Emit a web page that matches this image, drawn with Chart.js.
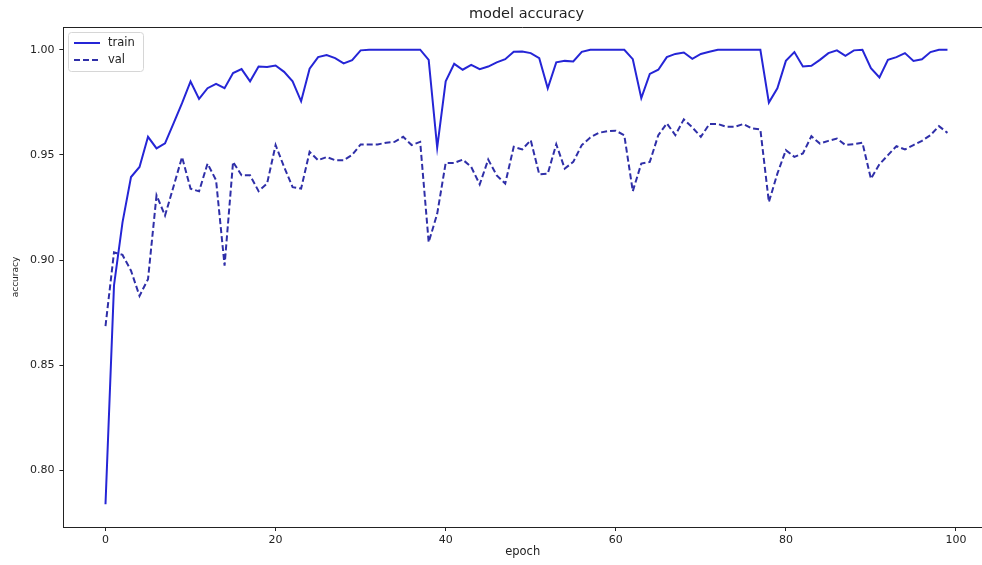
<!DOCTYPE html>
<html>
<head>
<meta charset="utf-8">
<script src="https://cdn.jsdelivr.net/npm/chart.js@4/dist/chart.umd.min.js"></script>
<style>
  html, body { margin: 0; padding: 0; background: #fff; overflow: hidden; }
  #wrap { position: relative; width: 982px; height: 565px; }
</style>
</head>
<body>
<div id="wrap"><canvas id="myChart"></canvas></div>
<script>
const epochs = Array.from({ length: 100 }, (_, i) => i);

const trainAcc = [
  0.784, 0.888, 0.918, 0.9395, 0.9443, 0.9586, 0.9531, 0.9555, 0.965, 0.9746,
  0.9849, 0.9766, 0.9817, 0.9838, 0.9817, 0.9889, 0.9908, 0.985, 0.992, 0.9918,
  0.9925, 0.9895, 0.985, 0.9755, 0.991, 0.9965, 0.9975, 0.996, 0.9935, 0.995,
  0.9997, 1.0, 1.0, 1.0, 1.0, 1.0, 1.0, 1.0, 0.9952, 0.9535,
  0.985, 0.9933, 0.9905, 0.9928, 0.9908, 0.992, 0.994, 0.9955, 0.999, 0.9992,
  0.9984, 0.996, 0.9817, 0.994, 0.9947, 0.9944, 0.999, 1.0, 1.0, 1.0,
  1.0, 1.0, 0.9955, 0.977, 0.9885, 0.9905, 0.9965, 0.998, 0.9987, 0.9957,
  0.998, 0.999, 1.0, 1.0, 1.0, 1.0, 1.0, 1.0, 0.9749, 0.9817,
  0.9947, 0.9989, 0.992, 0.9924, 0.9952, 0.9984, 0.9997, 0.9971, 0.9997, 1.0,
  0.9912, 0.9868, 0.9952, 0.9965, 0.9984, 0.9947, 0.9955, 0.9989, 1.0, 1.0
];

const valAcc = [
  0.8687, 0.9037, 0.9025, 0.895, 0.883, 0.891, 0.9308, 0.9212, 0.935, 0.949,
  0.934, 0.9327, 0.9459, 0.938, 0.8974, 0.9467, 0.9403, 0.9403, 0.9328, 0.9364,
  0.9547, 0.9443, 0.9347, 0.934, 0.9515, 0.9475, 0.949, 0.9475, 0.9475, 0.95,
  0.955, 0.955, 0.955, 0.9558, 0.9562, 0.9586, 0.9547, 0.9562, 0.9085, 0.922,
  0.9462, 0.9462, 0.9478, 0.9443, 0.936, 0.9478, 0.9403, 0.9364, 0.9539, 0.9526,
  0.957, 0.9408, 0.9411, 0.9551, 0.9435, 0.9467, 0.9547, 0.9583, 0.9605, 0.9613,
  0.9615, 0.9594, 0.9328, 0.9459, 0.9467, 0.9594, 0.965, 0.9594, 0.9669, 0.9631,
  0.9586, 0.9647, 0.9647, 0.9634, 0.9634, 0.9647, 0.9626, 0.9621, 0.9276, 0.9411,
  0.9523, 0.9491, 0.9507, 0.9589, 0.9554, 0.9567, 0.9578, 0.9547, 0.9551, 0.9558,
  0.9387, 0.9456, 0.9499, 0.9542, 0.9526, 0.9547, 0.9567, 0.9594, 0.9637, 0.9605
];

const xTicks = [0, 20, 40, 60, 80, 100];
const yTicks = [0.80, 0.85, 0.90, 0.95, 1.00];

const FONT = "'DejaVu Sans', sans-serif";
const INK = '#222';
const trainColor = '#2525d6';
const valColor = '#2f2fa8';

// top spine, title and the legend box (matplotlib style)
const framePlugin = {
  id: 'frame',
  afterDraw(chart) {
    const { ctx, chartArea: a } = chart;
    ctx.save();
    ctx.strokeStyle = INK;
    ctx.lineWidth = 1;
    ctx.beginPath();
    ctx.moveTo(a.left, a.top + 0.5);
    ctx.lineTo(a.right, a.top + 0.5);
    ctx.stroke();

    ctx.fillStyle = INK;
    ctx.font = `14.5px ${FONT}`;
    ctx.textAlign = 'center';
    ctx.textBaseline = 'middle';
    ctx.fillText('model accuracy', 526.5, 14);

    // legend
    const bx = 68, by = 32, bw = 75, bh = 39;
    ctx.beginPath();
    ctx.roundRect(bx + 0.5, by + 0.5, bw, bh, 3);
    ctx.fillStyle = 'rgba(255,255,255,0.85)';
    ctx.fill();
    ctx.strokeStyle = '#d6d6d6';
    ctx.stroke();

    chart.data.datasets.forEach((ds, i) => {
      const y = 43 + i * 17;
      ctx.beginPath();
      ctx.setLineDash(ds.borderDash || []);
      ctx.strokeStyle = ds.borderColor;
      ctx.lineWidth = ds.borderWidth;
      ctx.moveTo(74, y);
      ctx.lineTo(100, y);
      ctx.stroke();
      ctx.setLineDash([]);
      ctx.fillStyle = INK;
      ctx.font = `11.5px ${FONT}`;
      ctx.textAlign = 'left';
      ctx.fillText(ds.label, 108, y);
    });
    ctx.restore();
  }
};

const data = {
  datasets: [
    {
      label: 'train',
      data: trainAcc.map((v, i) => ({ x: epochs[i], y: v })),
      borderColor: trainColor,
      borderWidth: 2,
      pointRadius: 0,
      tension: 0
    },
    {
      label: 'val',
      data: valAcc.map((v, i) => ({ x: epochs[i], y: v })),
      borderColor: valColor,
      borderWidth: 2,
      borderDash: [6, 3],
      pointRadius: 0,
      tension: 0
    }
  ]
};

const config = {
  type: 'line',
  data: data,
  plugins: [framePlugin],
  options: {
    animation: false,
    responsive: true,
    maintainAspectRatio: false,
    devicePixelRatio: 1,
    layout: { padding: { top: 27, right: 0, left: 0, bottom: 0 } },
    plugins: { legend: { display: false }, tooltip: { enabled: false } },
    scales: {
      x: {
        type: 'linear',
        min: -4.95,
        max: 103.06,
        afterBuildTicks: (s) => { s.ticks = xTicks.map(v => ({ value: v })); },
        afterFit: (s) => { s.height = 38; },
        ticks: { color: INK, font: { family: FONT, size: 11 }, padding: 3, maxRotation: 0, autoSkip: false },
        grid: { drawOnChartArea: false, tickLength: 4, color: INK },
        border: { color: INK, width: 1 },
        title: { display: true, text: 'epoch', color: INK, font: { family: FONT, size: 11.5 }, padding: { top: 0, bottom: 6 } }
      },
      y: {
        min: 0.7732,
        max: 1.0108,
        afterBuildTicks: (s) => { s.ticks = yTicks.map(v => ({ value: v })); },
        afterFit: (s) => { s.width = 63.4; },
        ticks: { color: INK, font: { family: FONT, size: 11 }, padding: 5, callback: (v) => v.toFixed(2) },
        grid: { drawOnChartArea: false, tickLength: 4, color: INK },
        border: { color: INK, width: 1 },
        title: { display: true, text: 'accuracy', color: INK, font: { family: FONT, size: 9 }, padding: { top: 10.6, bottom: 0 } }
      }
    }
  }
};

const ctx = document.getElementById('myChart').getContext('2d');
const myChart = new Chart(ctx, config);
</script>
</body>
</html>
